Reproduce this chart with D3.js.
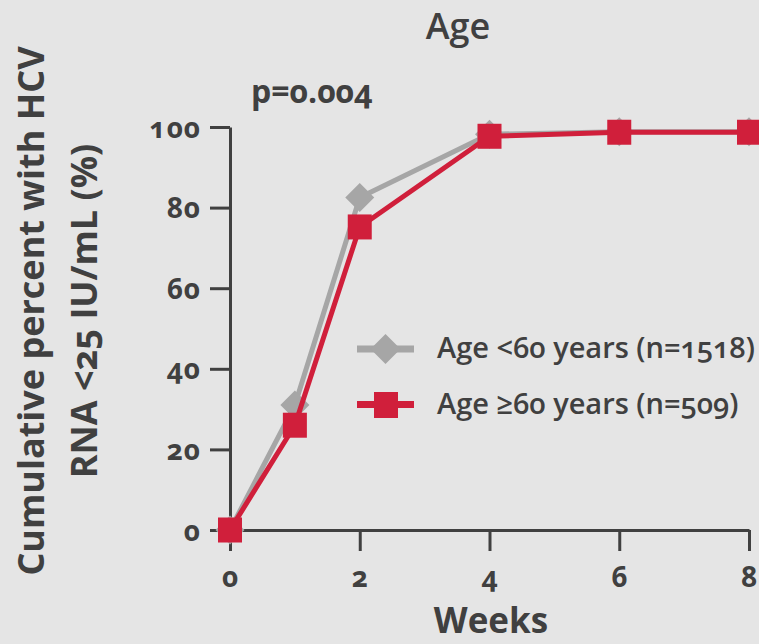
<!DOCTYPE html>
<html>
<head>
<meta charset="utf-8">
<script src="https://cdn.jsdelivr.net/npm/d3@7"></script>
<style>
  html, body { margin: 0; padding: 0; background: #e5e5e5; }
  svg { display: block; font-family: "Open Sans", "Noto Sans", sans-serif; font-variant-numeric: oldstyle-nums; }
</style>
</head>
<body>
<svg id="chart" width="759" height="644"></svg>
<script>
// ---- data ----
const weeks = [0, 1, 2, 4, 6, 8];
const under60 = [0, 31, 82.5, 98.2, 98.8, 98.8];
const over60 = [0, 26, 75.2, 97.7, 98.7, 98.7];
const seriesNames = ["Age <60 years (n=1518)", "Age \u226560 years (n=509)"];
const xTicks = [0, 2, 4, 6, 8];
const yTicks = [0, 20, 40, 60, 80, 100];
const titleText = "Age";
const pText = "p=0.004";
const xTitle = "Weeks";
const yTitleLines = ["Cumulative percent with HCV", "RNA <25 IU/mL (%)"];

const textColor = "#404040";
const grayColor = "#a6a6a6";
const redColor = "#d01f3b";

const svg = d3.select("#chart");
svg.append("rect").attr("width", 759).attr("height", 644).attr("fill", "#e5e5e5");

const x = d3.scaleLinear().domain([0, 8]).range([230, 749]);
const y = d3.scaleLinear().domain([0, 100]).range([530, 127]);

// axes
const yAxis = d3.axisLeft(y).tickValues(yTicks).tickSizeInner(20).tickSizeOuter(0).tickPadding(9);
const xAxis = d3.axisBottom(x).tickValues(xTicks).tickSizeInner(21).tickSizeOuter(0).tickPadding(12);

const gy = svg.append("g").attr("transform", `translate(${x(0)},0)`).call(yAxis);
const gx = svg.append("g").attr("transform", `translate(0,${y(0)})`).call(xAxis);

[gx, gy].forEach(g => {
  g.select(".domain").attr("stroke", textColor).attr("stroke-width", 3);
  g.selectAll(".tick line").attr("stroke", textColor).attr("stroke-width", 3);
  g.selectAll(".tick text")
    .attr("fill", textColor)
    .style("font-size", "28px")
    .style("font-weight", 700)
    .style("letter-spacing", "1px")
    .style("font-family", '"Open Sans", sans-serif');
});
gy.selectAll(".tick text").attr("dy", "0.36em");
gx.selectAll(".tick text").attr("dy", "0.85em");

// lines
const line = d3.line().x((d, i) => x(weeks[i])).y(d => y(d));

svg.append("path").datum(under60)
  .attr("d", line).attr("fill", "none")
  .attr("stroke", grayColor).attr("stroke-width", 5).attr("stroke-linejoin", "round");

const diamond = (cx, cy, r) => `M${cx},${cy - r}L${cx + r},${cy}L${cx},${cy + r}L${cx - r},${cy}Z`;

svg.append("g").selectAll("path").data(under60).join("path")
  .attr("d", (d, i) => diamond(x(weeks[i]), y(d), 14.5))
  .attr("fill", grayColor);

svg.append("path").datum(over60)
  .attr("d", line).attr("fill", "none")
  .attr("stroke", redColor).attr("stroke-width", 5).attr("stroke-linejoin", "round");

const sq = 24;
svg.append("g").selectAll("rect").data(over60).join("rect")
  .attr("x", (d, i) => x(weeks[i]) - sq / 2)
  .attr("y", d => y(d) - sq / 2 - 0.5)
  .attr("width", sq).attr("height", sq + 1)
  .attr("fill", redColor);

// legend
const lg = svg.append("g");
lg.append("line").attr("x1", 357).attr("x2", 414).attr("y1", 349).attr("y2", 349)
  .attr("stroke", grayColor).attr("stroke-width", 7);
lg.append("path").attr("d", diamond(385.5, 349, 15)).attr("fill", grayColor);
lg.append("line").attr("x1", 357).attr("x2", 414).attr("y1", 404.5).attr("y2", 404.5)
  .attr("stroke", redColor).attr("stroke-width", 7);
lg.append("rect").attr("x", 374).attr("y", 392).attr("width", 24).attr("height", 26).attr("fill", redColor);

lg.selectAll("text").data(seriesNames).join("text")
  .attr("x", 437)
  .attr("y", (d, i) => [358, 414][i])
  .attr("fill", textColor)
  .style("font-size", "29px")
  .style("font-weight", 600)
  .text(d => d);

// titles
svg.append("text").attr("x", 458).attr("y", 39).attr("text-anchor", "middle")
  .attr("fill", textColor).style("font-size", "36px").style("font-weight", 600).text(titleText);

svg.append("text").attr("x", 251).attr("y", 103)
  .attr("fill", textColor).style("font-size", "32px").style("font-weight", 700).text(pText);

svg.append("text").attr("x", 491).attr("y", 633).attr("text-anchor", "middle")
  .attr("fill", textColor).style("font-size", "35px").style("font-weight", 700).text(xTitle);

svg.append("g").selectAll("text").data(yTitleLines).join("text")
  .attr("transform", (d, i) => `translate(${[44, 97][i]},311) rotate(-90)`)
  .attr("text-anchor", "middle")
  .attr("fill", textColor).style("font-size", "36px").style("font-weight", 700)
  .text(d => d);
</script>
</body>
</html>
